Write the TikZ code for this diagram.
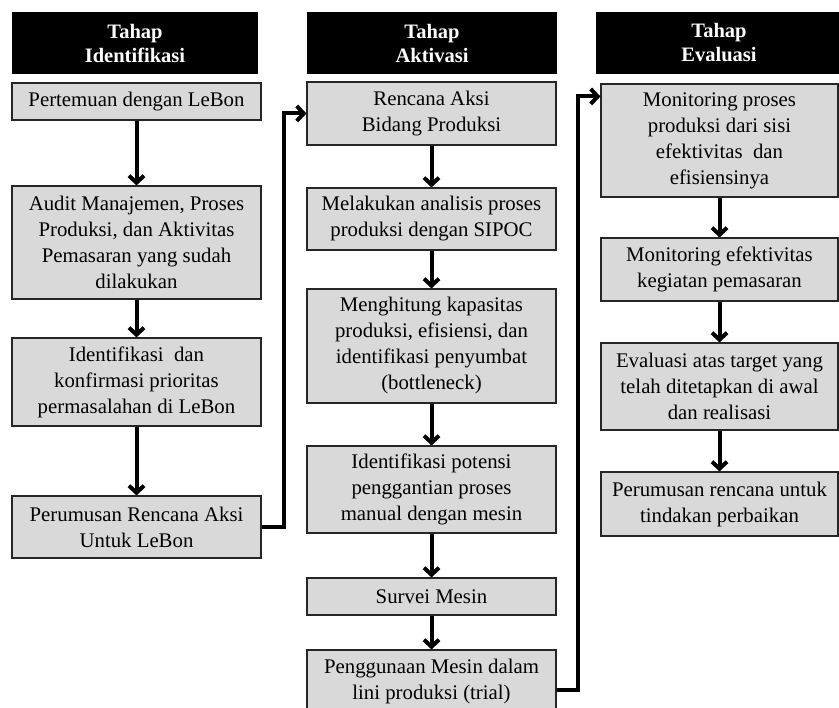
\documentclass[tikz,border=0pt]{standalone}
\usepackage{fontspec}
\setmainfont{Liberation Serif}
\usetikzlibrary{arrows.meta,calc}
\definecolor{boxgray}{RGB}{217,217,217}
\tikzset{
  hdr/.style={fill=black,text=white,inner sep=0pt,align=center,
    font=\fontsize{20.5}{24}\selectfont\bfseries},
  stepbox/.style={draw=black!85,line width=1.1pt,fill=boxgray,inner sep=0pt,
    align=center,font=\fontsize{20.8}{26}\selectfont},
  arr/.style={line width=4pt,-{Straight Barb[length=7pt,width=15pt]}},
}
\newcommand{\bx}[7]{% name, x1, y1, x2, y2, style, text
  \node[#6,minimum width={#4-#2},minimum height={#5-#3}] (#1) at ({(#2+#4)/2},{(#3+#5)/2}) {#7};}
\begin{document}
\begin{tikzpicture}[x=1pt,y=-1pt]
\useasboundingbox (0,0) rectangle (839,708);
% headers
\bx{h1}{12}{12}{258}{74}{hdr}{Tahap\\Identifikasi}
\bx{h2}{307}{12}{557}{74}{hdr}{Tahap\\Aktivasi}
\bx{h3}{596}{12}{842}{74}{hdr}{Tahap\\Evaluasi}
% column 1
\bx{a1}{12}{83}{261}{120}{stepbox}{Pertemuan dengan LeBon}
\bx{a2}{12}{186}{261}{299}{stepbox}{Audit Manajemen, Proses\\Produksi, dan Aktivitas\\Pemasaran yang sudah\\dilakukan}
\bx{a3}{12}{338}{261}{426}{stepbox}{Identifikasi \ dan\\konfirmasi prioritas\\permasalahan di LeBon}
\bx{a4}{12}{496}{261}{558}{stepbox}{Perumusan Rencana Aksi\\Untuk LeBon}
% column 2
\bx{b1}{307}{82}{556}{145}{stepbox}{Rencana Aksi\\Bidang Produksi}
\bx{b2}{307}{188}{556}{250}{stepbox}{Melakukan analisis proses\\produksi dengan SIPOC}
\bx{b3}{307}{289}{556}{403}{stepbox}{Menghitung kapasitas\\produksi, efisiensi, dan\\identifikasi penyumbat\\(bottleneck)}
\bx{b4}{307}{446}{556}{533}{stepbox}{Identifikasi potensi\\penggantian proses\\manual dengan mesin}
\bx{b5}{307}{578}{556}{615}{stepbox}{Survei Mesin}
\bx{b6}{307}{650}{556}{713}{stepbox}{Penggunaan Mesin dalam\\lini produksi (trial)}
% column 3
\bx{c1}{601}{84}{838}{197}{stepbox}{Monitoring proses\\produksi dari sisi\\efektivitas \ dan\\efisiensinya}
\bx{c2}{601}{238}{838}{301}{stepbox}{Monitoring efektivitas\\kegiatan pemasaran}
\bx{c3}{601}{343}{838}{430}{stepbox}{Evaluasi atas target yang\\telah ditetapkan di awal\\dan realisasi}
\bx{c4}{601}{472}{838}{536}{stepbox}{Perumusan rencana untuk\\tindakan perbaikan}
% vertical arrows
\foreach \u/\v in {a1/a2,a2/a3,a3/a4,b1/b2,b2/b3,b3/b4,b4/b5,b5/b6,c1/c2,c2/c3,c3/c4}
  \draw[arr] (\u.south) -- (\v.north);
% elbow connectors
\coordinate (s2) at ($(b6.east)+(0,8)$);
\coordinate (t3) at ($(c1.north west)+(0,13)$);
\draw[arr] (a4.east) -- ++(22,0) |- (b1.west);
\draw[arr] (s2) -- ++(21,0) |- (t3);
\end{tikzpicture}
\end{document}
